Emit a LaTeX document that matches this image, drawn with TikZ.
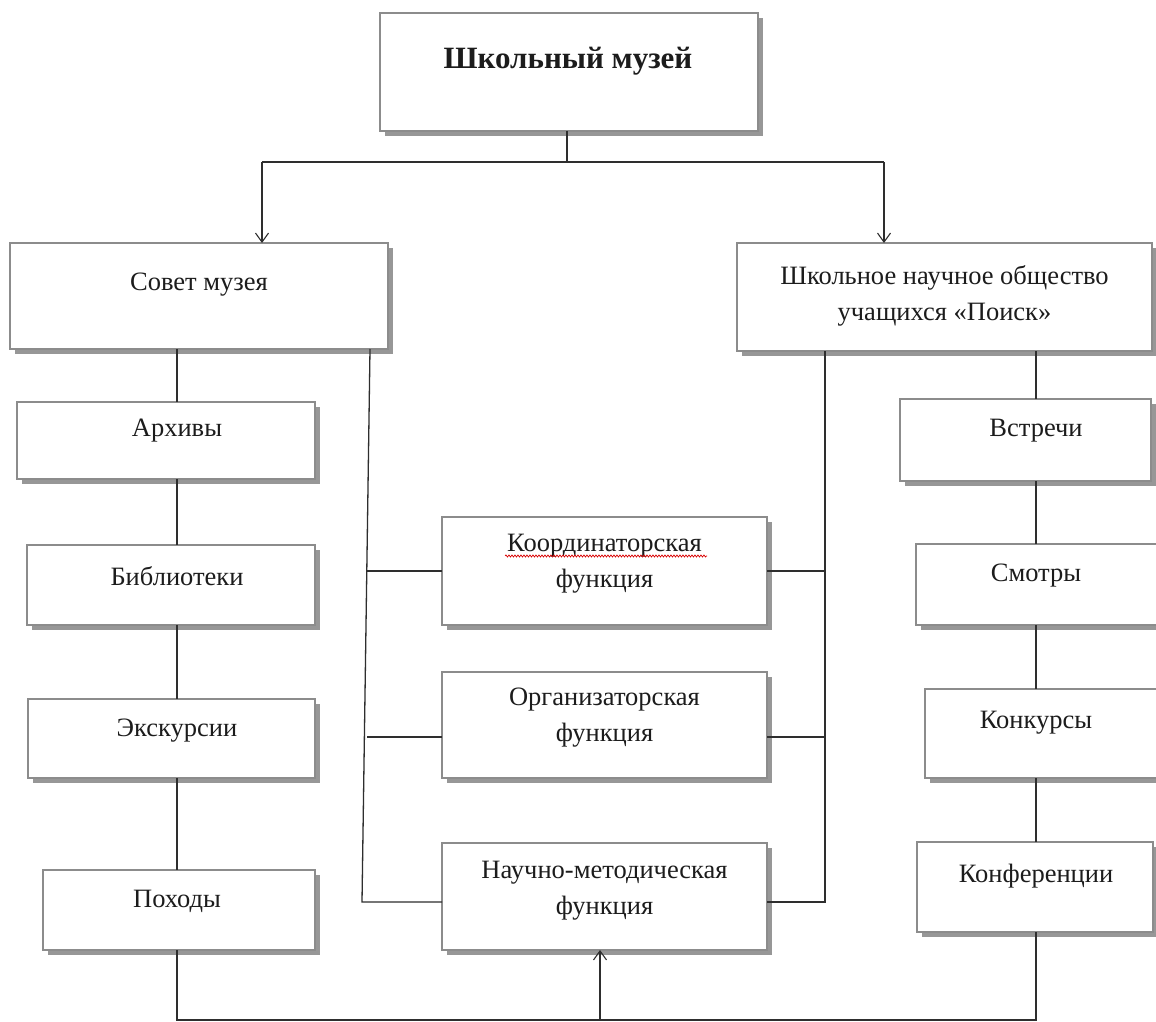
\documentclass[tikz,border=0pt]{standalone}
\usepackage{fontspec}
\setmainfont{Liberation Serif}
\usetikzlibrary{arrows.meta,shadows,decorations.pathmorphing}
\definecolor{boxgray}{HTML}{8C8C8C}
\definecolor{linec}{HTML}{2E2E2E}
\definecolor{txt}{HTML}{1C1C1C}
\begin{document}
\begin{tikzpicture}[x=1pt,y=-1pt,
  box/.style={draw=boxgray, line width=2pt, fill=white, inner sep=0pt, outer sep=0pt,
    drop shadow={shadow xshift=5pt, shadow yshift=-5pt, fill=black!45, opacity=.9}},
  lbl/.style={font=\fontsize{26.5}{36}\selectfont, text=txt, align=center, inner sep=0pt},
  conn/.style={draw=linec, line width=1.3pt},
  arr/.style={conn, -{Straight Barb[length=9pt,width=13pt,line width=1.1pt]}}]
\useasboundingbox (0,0) rectangle (1156,1022);
\fill[white] (0,0) rectangle (1156,1022);

% boxes
\node[box, minimum width=378pt, minimum height=118pt] (top) at (569,72) {};
\node[box, minimum width=378pt, minimum height=106pt] (sovet) at (199,296) {};
\node[box, minimum width=415pt, minimum height=108pt] (sno) at (944.5,297) {};
\node[box, minimum width=298pt, minimum height=77pt] (arch) at (166,440.5) {};
\node[box, minimum width=288pt, minimum height=80pt] (bib) at (171,585) {};
\node[box, minimum width=287pt, minimum height=79pt] (exc) at (171.5,738.5) {};
\node[box, minimum width=272pt, minimum height=80pt] (pokh) at (179,910) {};
\node[box, minimum width=325pt, minimum height=108pt] (koord) at (604.5,571) {};
\node[box, minimum width=325pt, minimum height=106pt] (org) at (604.5,725) {};
\node[box, minimum width=325pt, minimum height=107pt] (nauch) at (604.5,896.5) {};
\node[box, minimum width=251pt, minimum height=82pt] (vstr) at (1025.5,440) {};
\node[box, minimum width=244pt, minimum height=81pt] (smot) at (1038,584.5) {};
\node[box, minimum width=235pt, minimum height=89pt] (konk) at (1042.5,733.5) {};
\node[box, minimum width=236pt, minimum height=90pt] (konf) at (1035,887) {};

% texts
\node[lbl, font=\fontsize{31}{36}\selectfont\bfseries] (topT) at (568,61) {Школьный музей};
\node[lbl] (sovetT) at (199,285) {Совет музея};
\node[lbl] (snoT) at (944.5,296) {Школьное научное общество\\учащихся «Поиск»};
\node[lbl] (archT) at (177,431) {Архивы};
\node[lbl] (bibT) at (177,576) {Библиотеки};
\node[lbl] (excT) at (177,731) {Экскурсии};
\node[lbl] (pokhT) at (177,901) {Походы};
\node[lbl] (koordT) at (604.5,564) {Координаторская\\функция};
\node[lbl] (orgT) at (604.5,718) {Организаторская\\функция};
\node[lbl] (nauchT) at (604.5,891) {Научно-методическая\\функция};
\node[lbl] (vstrT) at (1036,431) {Встречи};
\node[lbl] (smotT) at (1036,576) {Смотры};
\node[lbl] (konkT) at (1036,723) {Конкурсы};
\node[lbl] (konfT) at (1036,876) {Конференции};

% spell-check squiggle
\draw[red!85!black, line width=0.7pt, decorate, decoration={snake, amplitude=1pt, segment length=3pt}] (505,556) -- (707,556);

% helper coordinates
\coordinate (tX) at (567,0);
\coordinate (jY) at (0,162);
\coordinate (jL) at (262,162);
\coordinate (jR) at (884,162);
\coordinate (colL) at (177,0);
\coordinate (colR) at (1036,0);
\coordinate (mlT) at (370,0);
\coordinate (mlK) at (367,0);
\coordinate (mlB) at (362,902);
\coordinate (mrX) at (825,0);
\coordinate (oY) at (0,737);
\coordinate (nY) at (0,902);
\coordinate (bY) at (0,1020);
\coordinate (aX) at (600,0);

% top connectors
\draw[conn] (top.south -| tX) -- (tX |- jY);
\draw[conn] (jL) -- (jR);
\draw[arr] (jL) -- (sovet.north -| jL);
\draw[arr] (jR) -- (sno.north -| jR);

% left column
\draw[conn] (sovet.south -| colL) -- (arch.north -| colL);
\draw[conn] (arch.south -| colL) -- (bib.north -| colL);
\draw[conn] (bib.south -| colL) -- (exc.north -| colL);
\draw[conn] (exc.south -| colL) -- (pokh.north -| colL);

% right column
\draw[conn] (sno.south -| colR) -- (vstr.north -| colR);
\draw[conn] (vstr.south -| colR) -- (smot.north -| colR);
\draw[conn] (smot.south -| colR) -- (konk.north -| colR);
\draw[conn] (konk.south -| colR) -- (konf.north -| colR);

% middle left
\draw[conn] (sovet.south -| mlT) -- (mlB) -- (nauch.west |- nY);
\draw[conn] (koord.west -| mlK) -- (koord.west);
\draw[conn] (mlK |- oY) -- (org.west |- oY);

% middle right
\draw[conn] (sno.south -| mrX) -- (mrX |- nY) -- (nauch.east |- nY);
\draw[conn] (koord.east) -- (koord.east -| mrX);
\draw[conn] (org.east |- oY) -- (mrX |- oY);

% bottom
\draw[conn] (pokh.south -| colL) -- (colL |- bY) -- (colR |- bY) -- (konf.south -| colR);
\draw[arr] (aX |- bY) -- (nauch.south -| aX);
\end{tikzpicture}
\end{document}
